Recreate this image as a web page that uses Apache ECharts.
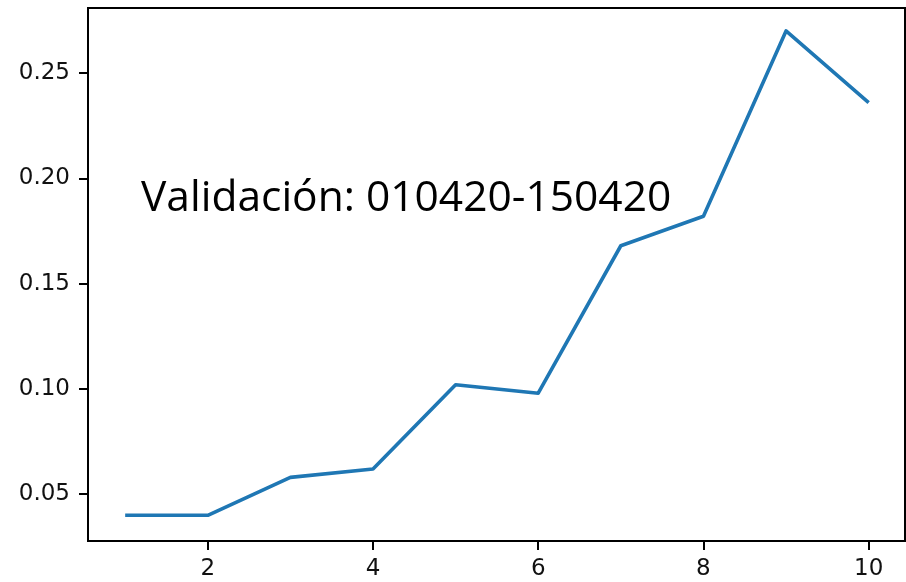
<!DOCTYPE html>
<html>
<head>
<meta charset="utf-8">
<title>Validación</title>
<script src="https://cdn.jsdelivr.net/npm/echarts@6/dist/echarts.min.js"></script>
<style>
  html, body { margin: 0; padding: 0; background: #fff; }
  #chart { width: 906px; height: 582px; }
</style>
</head>
<body>
<div id="chart"></div>
<script>
// Epoch index and validation value
const epochs = [1, 2, 3, 4, 5, 6, 7, 8, 9, 10];
const values = [0.040, 0.040, 0.058, 0.062, 0.102, 0.098, 0.168, 0.182, 0.270, 0.236];

// Tick labels shown on each axis
const xTicks = [2, 4, 6, 8, 10];
const yTicks = [0.05, 0.10, 0.15, 0.20, 0.25];

const annotation = 'Validación: 010420-150420';

const chart = echarts.init(document.getElementById('chart'), null, { renderer: 'canvas' });

const tickFont = { fontFamily: 'DejaVu Sans', fontSize: 23, color: '#111' };

chart.setOption({
  animation: false,
  backgroundColor: '#fff',
  grid: {
    left: 88, right: 1, top: 8, bottom: 41,
    show: true, borderColor: '#000', borderWidth: 2, backgroundColor: 'transparent'
  },
  xAxis: {
    type: 'value',
    min: 0.55, max: 10.44,
    axisLine: { show: true, onZero: false, lineStyle: { color: '#000', width: 2 } },
    axisTick: { show: true, inside: false, length: 9, customValues: xTicks, lineStyle: { color: '#000', width: 2 } },
    axisLabel: Object.assign({ margin: 17, customValues: xTicks, formatter: v => String(v) }, tickFont),
    splitLine: { show: false }
  },
  yAxis: {
    type: 'value',
    min: 0.0278, max: 0.2809,
    axisLine: { show: true, onZero: false, lineStyle: { color: '#000', width: 2 } },
    axisTick: { show: true, inside: false, length: 9, customValues: yTicks, lineStyle: { color: '#000', width: 2 } },
    axisLabel: Object.assign({ margin: 18, customValues: yTicks, formatter: v => v.toFixed(2) }, tickFont),
    splitLine: { show: false }
  },
  series: [{
    type: 'line',
    data: epochs.map((e, i) => [e, values[i]]),
    showSymbol: false,
    symbol: 'none',
    lineStyle: { color: '#1f77b4', width: 3.6, join: 'round' }
  }],
  graphic: [{
    type: 'text',
    left: 141,
    top: 177,
    style: {
      text: annotation,
      fontFamily: 'Open Sans',
      fontSize: 42.5,
      fill: '#000'
    }
  }]
});
</script>
</body>
</html>
